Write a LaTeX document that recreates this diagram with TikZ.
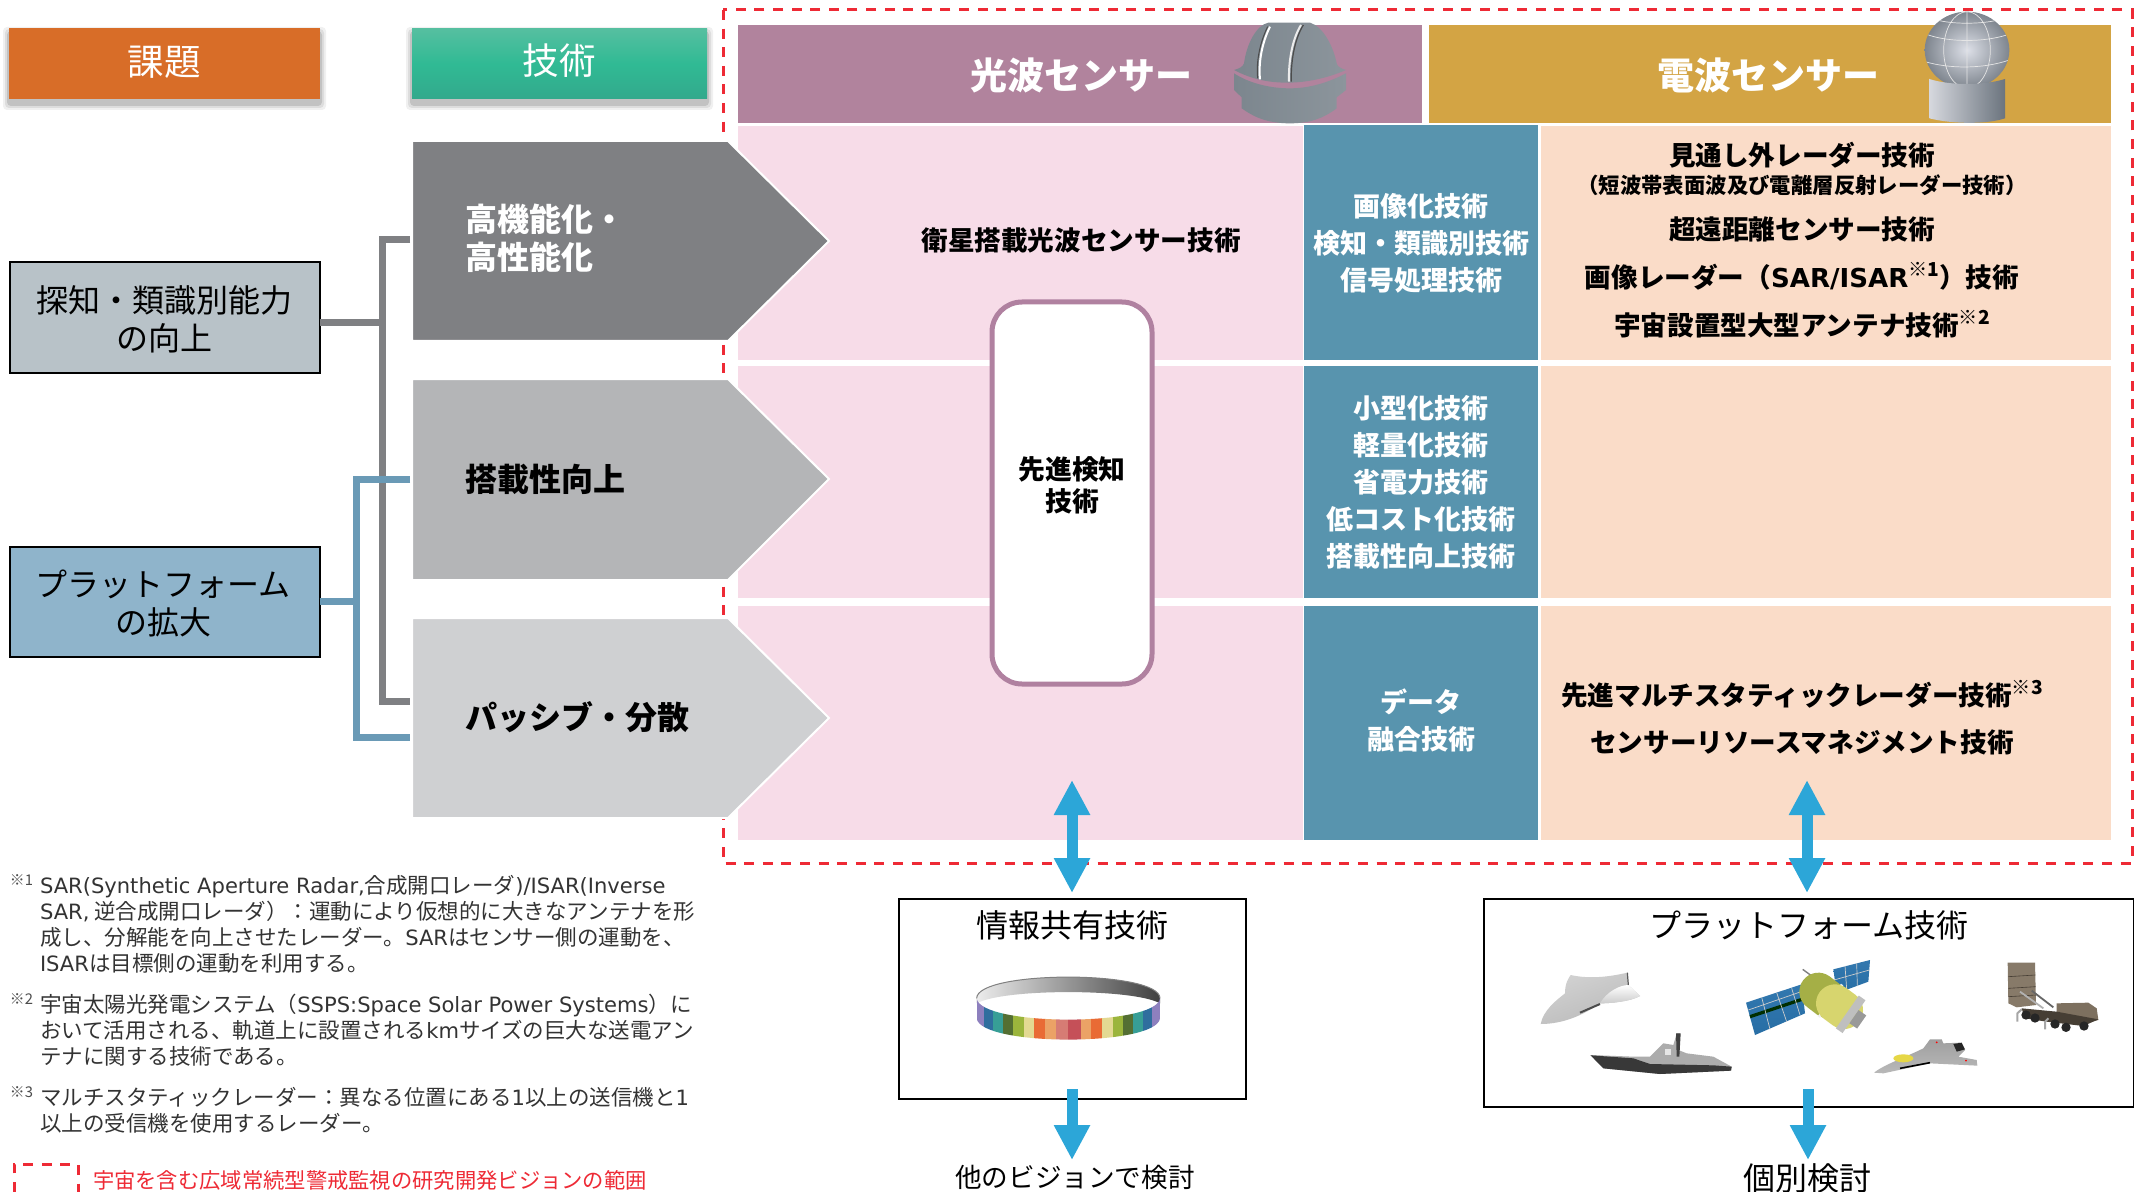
\documentclass[tikz,border=0pt]{standalone}
\usepackage{fontspec}
\setmainfont{Noto Sans CJK JP}
\newfontfamily\latf{DejaVu Sans}[Scale=0.98]
\usetikzlibrary{arrows.meta,shadings}
\newcommand\fsz[2]{\fontsize{#1}{#2}\selectfont}
\newcommand\mrk[1]{\raisebox{0.42em}{\fontsize{9.6}{10}\selectfont ※#1}}
\definecolor{redd}{HTML}{EE2A35}
\definecolor{purp}{HTML}{B1839D}
\definecolor{gold}{HTML}{D3A444}
\definecolor{pinkp}{HTML}{F7DCE8}
\definecolor{tealp}{HTML}{5894AE}
\definecolor{peach}{HTML}{FADCC8}
\definecolor{grayA}{HTML}{7F8083}
\definecolor{grayB}{HTML}{B4B5B7}
\definecolor{grayC}{HTML}{CFD0D2}
\definecolor{blueL}{HTML}{6A9AB6}
\definecolor{arrowb}{HTML}{2CA6D8}
\definecolor{rose}{HTML}{B081A0}
\definecolor{orangeh}{HTML}{D86D28}
\definecolor{gtop}{HTML}{55BFA0}
\definecolor{gmidd}{HTML}{30BA94}
\definecolor{gbot}{HTML}{33A98C}
\definecolor{box1c}{HTML}{B8C2C8}
\definecolor{box2c}{HTML}{8FB4CB}
\definecolor{sphi}{HTML}{DDE0E8}
\definecolor{spho}{HTML}{7E858E}
\definecolor{basel}{HTML}{D6D8DE}
\definecolor{baser}{HTML}{6B747E}
\definecolor{domel}{HTML}{7C868E}
\definecolor{domem}{HTML}{BFC2C5}
\definecolor{domer}{HTML}{8C959C}
\definecolor{panA}{HTML}{3278AF}
\definecolor{panB}{HTML}{D2DEE8}
\definecolor{panC}{HTML}{286EA5}
\definecolor{satg}{HTML}{A5AF46}
\definecolor{saty}{HTML}{D7D56E}
\definecolor{bra}{HTML}{877A69}
\definecolor{brb}{HTML}{7D705F}
\definecolor{brc}{HTML}{463E34}
\definecolor{jety}{HTML}{E6D746}
\tikzset{
 x=0.5pt,y=-0.5pt,
 panel/.style={inner sep=0pt,outer sep=0pt,align=center},
 headtxt/.style={panel,text=white,font=\bfseries\fsz{18.5}{22}},
 tealbox/.style={panel,fill=tealp,text=white,font=\bfseries\fsz{13.5}{18.5}},
 peachtxt/.style={panel,text=black,font=\bfseries\fsz{13.3}{16}},
 arrowtxt/.style={panel,anchor=west,text=black,font=\bfseries\fsz{16}{19}},
 issue/.style={panel,draw=black,line width=1pt,font=\fsz{16}{19}},
 framebox/.style={panel,draw=black,line width=1pt},
 titletxt/.style={panel,font=\fsz{16}{19}},
 notetxt/.style={panel,anchor=north west,align=left,text=black!80,font=\fsz{10.75}{13}},
 marker/.style={panel,anchor=north west,text=black!70,font=\fsz{7.4}{8}},
 penta/.style={draw=white,line width=1pt},
 gline/.style={draw=grayA,line width=3.5pt},
 bline/.style={draw=blueL,line width=3.5pt},
 darrow/.style={arrowb,line width=5.5pt,{Triangle[length=17.5pt,width=17pt]}-{Triangle[length=17.5pt,width=17pt]}},
 sarrow/.style={arrowb,line width=5.5pt,-{Triangle[length=17.5pt,width=17pt]}},
 reddash/.style={draw=redd,line width=1.5pt,dash pattern=on 5pt off 4.3pt},
 zm/.style={shift={#1},scale=1/3},
 gridl/.style={draw=#1,line width=0.35pt}
}
\begin{document}
\begin{tikzpicture}
\useasboundingbox (0,0) rectangle (2134,1192);
\fill[white] (0,0) rectangle (2134,1192);
% red frame
\draw[reddash] (723,10) rectangle (2132,863);
% header shadows
\foreach \d/\o in {6/.06,4/.08,2/.12}{
 \fill[black,opacity=\o,rounded corners=2pt] (9-\d,29+4-\d) rectangle (320+\d,99+5+\d);
 \fill[black,opacity=\o,rounded corners=2pt] (412-\d,29+4-\d) rectangle (707+\d,99+5+\d);
}
\node[panel,fill=orangeh,minimum width=155.5pt,minimum height=35.5pt,text=white,font=\fsz{18.3}{22}] (kadai) at (164.5,64) {};
\node[panel,text=white,font=\fsz{18.3}{22}] (kadait) at (164.5,62) {課題};
\shade[top color=gtop,bottom color=gbot,middle color=gmidd] (412,29) rectangle (707,99);
\node[panel,text=white,font=\fsz{18.3}{22}] (gijutsu) at (559.5,61) {技術};
% sensor headers
\node[panel,fill=purp,minimum width=342pt,minimum height=49pt] (hopt) at (1080,74) {};
\node[panel,fill=gold,minimum width=341pt,minimum height=49pt] (hrad) at (1770,74) {};
\node[headtxt] (hoptt) at (1081,75) {光波センサー};
\node[headtxt] (hradt) at (1768,75) {電波センサー};
% panels
\node[panel,fill=pinkp,minimum width=282.5pt,minimum height=117pt] (p1) at (1020.5,243) {};
\node[panel,fill=pinkp,minimum width=282.5pt,minimum height=116pt] (p2) at (1020.5,482) {};
\node[panel,fill=pinkp,minimum width=282.5pt,minimum height=117pt] (p3) at (1020.5,723) {};
\node[tealbox,minimum width=117pt,minimum height=117.5pt] (t1) at (1421,243) {画像化技術\\検知・類識別技術\\信号処理技術};
\node[tealbox,minimum width=117pt,minimum height=116pt] (t2) at (1421,482) {小型化技術\\軽量化技術\\省電力技術\\低コスト化技術\\搭載性向上技術};
\node[panel,fill=tealp,minimum width=117pt,minimum height=117pt] (t3) at (1421,723) {};
\node[panel,text=white,font=\bfseries\fsz{13.5}{18.5}] (t3t) at (1421,720) {データ\\融合技術};
\node[panel,fill=peach,minimum width=285pt,minimum height=117pt] (q1) at (1826,243) {};
\node[panel,fill=peach,minimum width=285pt,minimum height=116pt] (q2) at (1826,482) {};
\node[panel,fill=peach,minimum width=285pt,minimum height=117pt] (q3) at (1826,723) {};
% arrow pentagons
\path[penta,fill=grayA] (412,141) -- (728,141) -- (829,241) -- (728,341) -- (412,341) -- cycle;
\path[penta,fill=grayB] (412,379) -- (728,379) -- (829,479) -- (728,580) -- (412,580) -- cycle;
\path[penta,fill=grayC] (412,618) -- (728,618) -- (829,718) -- (728,818) -- (412,818) -- cycle;
\node[arrowtxt,text=white,align=left] (a1) at (465,238) {高機能化・\\高性能化};
\node[arrowtxt] (a2) at (465,479) {搭載性向上};
\node[arrowtxt] (a3) at (465,717) {パッシブ・分散};
% text in panels
\node[panel,font=\bfseries\fsz{13.3}{16}] (eisei) at (1081,240) {衛星搭載光波センサー技術};
\node[peachtxt] (r1) at (1802,155) {見通し外レーダー技術};
\node[peachtxt,font=\bfseries\fsz{10.7}{12}] (r1b) at (1802,185) {（短波帯表面波及び電離層反射レーダー技術）};
\node[peachtxt] (r2) at (1802,229) {超遠距離センサー技術};
\node[peachtxt] (r3) at (1802,276) {画像レーダー（{\latf SAR/ISAR}\mrk{1}）技術};
\node[peachtxt] (r4) at (1802,324) {宇宙設置型大型アンテナ技術\mrk{2}};
\node[peachtxt] (r5) at (1802,694) {先進マルチスタティックレーダー技術\mrk{3}};
\node[peachtxt] (r6) at (1802,742) {センサーリソースマネジメント技術};
% central rounded box
\node[panel,draw=rose,fill=white,line width=2.5pt,rounded corners=15pt,minimum width=80pt,minimum height=191pt] (adv) at (1072,493) {};
\node[panel,font=\bfseries\fsz{13.4}{16}] (advt) at (1072,485) {先進検知\\技術};
% issue boxes
\node[issue,fill=box1c,minimum width=155pt,minimum height=55pt] (b1) at (164.5,317.5) {};
\node[panel,font=\fsz{16}{19}] (b1t) at (164,319) {探知・類識別能力\\の向上};
\node[issue,fill=box2c,minimum width=155pt,minimum height=55pt] (b2) at (164.5,601.5) {};
\node[panel,font=\fsz{16}{19}] (b2t) at (163,603) {プラットフォーム\\の拡大};
% connectors
\coordinate (gtopc) at (410,240); \coordinate (gcor1) at (382,240); \coordinate (gmid) at (382,323);
\coordinate (gcor2) at (382,701); \coordinate (gend) at (410,701);
\coordinate (btop) at (410,479); \coordinate (bcor1) at (356,479); \coordinate (bmid) at (356,601);
\coordinate (bcor2) at (356,737); \coordinate (bend) at (410,737);
\draw[gline,line join=miter] (gtopc) -- (gcor1) -- (gcor2) -- (gend);
\draw[gline] (b1.east |- gmid) -- (gmid);
\draw[bline,line join=miter] (btop) -- (bcor1) -- (bcor2) -- (bend);
\draw[bline] (b2.east |- bmid) -- (bmid);
% lower boxes
\node[framebox,minimum width=173.5pt,minimum height=100pt] (info) at (1072.5,999) {};
\node[framebox,minimum width=325pt,minimum height=104pt] (plat) at (1809,1003) {};
\node[titletxt] (infot) at (1072,925) {情報共有技術};
\node[titletxt] (platt) at (1809,925) {プラットフォーム技術};
\node[panel,font=\fsz{13.3}{16}] (other) at (1075,1177) {他のビジョンで検討};
\node[panel,font=\fsz{16}{19}] (indiv) at (1807,1178) {個別検討};
% blue arrows
\coordinate (d1a) at (1072,780); \coordinate (d1b) at (1072,893);
\coordinate (d2a) at (1807,780); \coordinate (d2b) at (1807,893);
\coordinate (s1a) at (1072,1089); \coordinate (s1b) at (1072,1160);
\coordinate (s2a) at (1808,1089); \coordinate (s2b) at (1808,1160);
\draw[darrow] (d1a) -- (d1b);
\draw[darrow] (d2a) -- (d2b);
\draw[sarrow] (s1a) -- (s1b);
\draw[sarrow] (s2a) -- (s2b);
% notes
\node[marker] (m1) at (10,875) {※1};
\node[notetxt] (n1) at (40,875) {{\latf SAR(Synthetic Aperture Radar,}合成開口レーダ{\latf )/ISAR(Inverse}\\{\latf SAR,} 逆合成開口レーダ）：運動により仮想的に大きなアンテナを形\\成し、分解能を向上させたレーダー。{\latf SAR}はセンサー側の運動を、\\{\latf ISAR}は目標側の運動を利用する。};
\node[marker] (m2) at (10,994) {※2};
\node[notetxt] (n2) at (40,994) {宇宙太陽光発電システム（{\latf SSPS:Space Solar Power Systems}）に\\おいて活用される、軌道上に設置される{\latf km}サイズの巨大な送電アン\\テナに関する技術である。};
\node[marker] (m3) at (10,1087) {※3};
\node[notetxt] (n3) at (40,1087) {マルチスタティックレーダー：異なる位置にある{\latf 1}以上の送信機と{\latf 1}\\以上の受信機を使用するレーダー。};
\coordinate (l1) at (14,1192); \coordinate (l2) at (14,1164); \coordinate (l3) at (78,1164); \coordinate (l4) at (78,1192);
\draw[reddash] (l1) -- (l2) -- (l3) -- (l4);
\node[panel,anchor=west,text=redd,font=\fsz{10.65}{13}] (leg) at (93,1180) {宇宙を含む広域常続型警戒監視の研究開発ビジョンの範囲};
% optical dome
\begin{scope}[zm={(1220,10)}]
\shade[left color=domel,middle color=domem,right color=domer] (42,180) .. controls (60,175) and (68,170) .. (72,160) .. controls (80,100) and (110,45) .. (145,38) -- (270,38) .. controls (310,50) and (340,110) .. (350,160) .. controls (352,170) and (362,175) .. (378,180) .. controls (320,205) and (260,218) .. (200,218) .. controls (130,218) and (80,200) .. (42,180) -- cycle;
\draw[gray!60!black,line width=.5pt] (143,50) .. controls (118,100) and (108,160) .. (113,205);
\draw[white,line width=1pt] (150,50) .. controls (125,100) and (115,160) .. (120,208);
\draw[white!85!gray,line width=1pt] (243,45) .. controls (215,90) and (205,160) .. (207,215);
\draw[gray!60!black,line width=.6pt] (250,45) .. controls (222,90) and (212,160) .. (214,215);
\shade[left color=domel,middle color=domem,right color=domer] (42,190) .. controls (80,215) and (140,235) .. (210,235) .. controls (280,235) and (340,210) .. (378,190) -- (378,240) -- (350,262) -- (350,295) .. controls (310,325) and (270,340) .. (210,340) .. controls (140,340) and (100,320) .. (65,295) -- (65,262) -- (42,240) -- cycle;
\end{scope}
% radio dome
\begin{scope}[zm={(1900,5)}]
\shade[inner color=sphi,outer color=spho] (201,135) ellipse[x radius=127,y radius=115];
\begin{scope}
\clip (201,135) ellipse[x radius=127,y radius=115];
\draw[gridl=white!80!gray] (201,20) -- (201,250) (201,135) ellipse[x radius=70,y radius=115] (85,90) .. controls (150,112) and (250,112) .. (320,90) (75,170) .. controls (150,192) and (250,192) .. (328,165) (110,45) .. controls (160,58) and (240,58) .. (295,45);
\end{scope}
\shade[left color=basel,right color=baser] (88,222) .. controls (150,242) and (250,242) .. (315,222) -- (315,340) .. controls (260,358) and (160,358) .. (88,340) -- cycle;
\end{scope}
% ring
\begin{scope}[zm={(960,960)}]
\shade[left color=white!85!gray,right color=black!75!white] (50,115) .. controls (50,30) and (600,30) .. (600,115) -- (600,130) .. controls (520,85) and (130,85) .. (50,130) -- cycle;
\draw[gray,line width=.5pt] (50,115) .. controls (50,30) and (600,30) .. (600,115);
\begin{scope}
\clip (50,115) .. controls (60,200) and (590,200) .. (600,115) -- (600,175) .. controls (590,260) and (60,260) .. (50,175) -- cycle;
\foreach \a/\b/\c in {50/72/8D80BE,72/100/2F6E9E,100/130/379E96,130/160/546F33,160/192/9BB53C,192/222/E3D992,222/254/E96B35,254/288/EBA266,288/325/D67C74,325/362/C55058,362/394/EBA266,394/426/E96B35,426/458/E3D992,458/488/9BB53C,488/518/546F33,518/548/379E96,548/576/2F6E9E,576/600/8D80BE}{
 \definecolor{tmpc}{HTML}{\c}
 \fill[tmpc] (\a,100) rectangle (\b,250);
}
\end{scope}
\end{scope}
% vehicles left
\begin{scope}[zm={(1500,950)}]
% drone
\shade[top color=gray!35!white,middle color=white,bottom color=gray!55!white,shading angle=20] (122,222) .. controls (130,180) and (170,150) .. (195,130) .. controls (195,100) and (205,85) .. (212,75) .. controls (270,88) and (330,80) .. (382,68) -- (385,105) -- (420,138) .. controls (390,155) and (330,160) .. (300,160) .. controls (250,195) and (190,222) .. (122,222) -- cycle;
\shade[top color=white,bottom color=gray!40!white] (300,160) .. controls (320,125) and (360,105) .. (385,105) -- (420,138) .. controls (390,155) and (330,160) .. (300,160) -- cycle;
\draw[black!70,line width=1pt] (240,188) -- (300,162);
\draw[gray!70!black,line width=.6pt] (382,68) -- (385,105);
% ship
\fill[gray!65!white] (270,315) -- (400,320) -- (450,320) -- (490,280) -- (520,285) -- (530,250) -- (540,250) -- (535,300) -- (560,310) -- (640,320) -- (695,350) -- (693,362) -- (480,372) -- (310,355) -- cycle;
\fill[black!78] (272,316) -- (400,325) -- (450,342) -- (640,346) -- (695,350) -- (693,362) -- (480,372) -- (310,355) -- cycle;
\fill[gray!50!black] (528,250) -- (542,250) -- (538,320) -- (530,320) -- cycle;
\fill[white!80!gray] (495,298) rectangle (512,315);
% satellite left panel
\shade[top color=panA,middle color=panB,bottom color=panC] (738,158) -- (905,103) -- (915,190) -- (765,255) -- cycle;
\draw[black!70!green!60!black,line width=1.6pt] (750,200) -- (915,145);
\draw[gridl=white!60!gray] (785,142) -- (810,238) (830,128) -- (860,215) (875,115) -- (900,195) (745,180) -- (912,122);
\draw[gray,line width=.7pt] (908,58) -- (945,85);
% right panel
\shade[top color=panA,middle color=panB,bottom color=panC] (1000,58) -- (1110,30) -- (1105,95) -- (1010,130) -- cycle;
\draw[gridl=white!60!gray] (1035,48) -- (1040,118) (1070,40) -- (1072,108) (1002,90) -- (1108,60);
% body
\draw[line cap=round,line width=19pt,color=satg] (955,125) -- (985,148);
\draw[line width=20pt,color=white!90!gray] (988,150) -- (995,155);
\draw[line cap=round,line width=19pt,color=saty] (1005,160) -- (1032,180);
\draw[line width=20pt,color=gray!50!white] (1042,186) -- (1062,200);
\draw[line width=8pt,color=gray!80!white] (1062,200) -- (1085,216);
\end{scope}
% vehicles right
\begin{scope}[zm={(1840,950)}]
% launcher
\fill[bra] (503,38) -- (585,38) -- (588,165) -- (530,172) -- (505,160) -- cycle;
\draw[brc,line width=.3pt] (505,80) -- (586,75) (505,115) -- (587,110) (505,140) -- (588,135);
\draw[gray!60!white,line width=.9pt] (540,125) -- (610,175);
\draw[black!60,line width=.9pt] (575,122) -- (640,172);
\fill[brb] (650,160) -- (745,158) -- (770,175) -- (775,210) -- (730,222) -- (650,205) -- cycle;
\fill[brc] (545,175) -- (650,185) -- (775,208) -- (730,228) -- (620,215) -- (555,205) -- cycle;
\draw[gray!70!white,line width=1pt] (545,178) -- (532,190) -- (532,215) (625,205) -- (615,215) -- (615,238);
\foreach \wx/\wy in {558/195,585/204,645/222,678/232,732/228}{\fill[black!85] (\wx,\wy) circle[radius=14];}
% jet
\shade[top color=gray!75!white,middle color=gray!25!white,bottom color=gray!55!white] (102,368) .. controls (130,345) and (200,320) .. (250,295) -- (270,268) -- (305,268) -- (310,280) -- (360,278) -- (375,300) -- (355,320) -- (410,330) -- (412,347) -- (270,340) -- (130,370) -- cycle;
\fill[jety] (190,325) ellipse[x radius=30,y radius=12];
\draw[black,line width=.8pt] (180,355) -- (270,338);
\fill[black!85] (340,282) -- (365,278) -- (375,298) -- (350,305) -- cycle;
\fill[red] (290,277) circle[radius=3];
\fill[red] (378,332) circle[radius=3];
\end{scope}
\end{tikzpicture}
\end{document}
